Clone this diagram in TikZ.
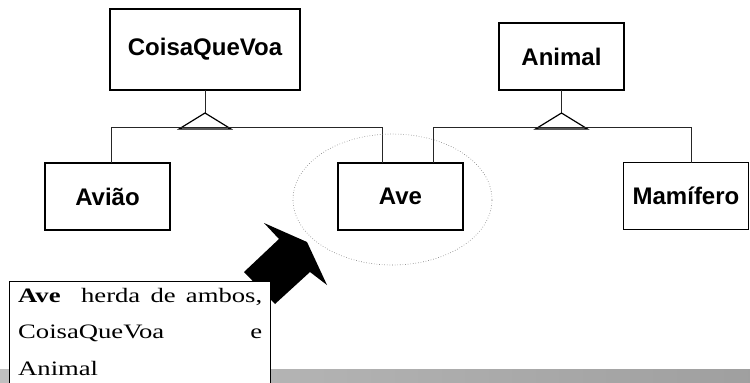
\documentclass[tikz,border=0pt]{standalone}
\usepackage{fontspec}
\setmainfont{Liberation Serif}[FakeStretch=1.3]
\newfontfamily\classefont{Liberation Sans}
\usetikzlibrary{positioning,calc,shapes.geometric}

\begin{document}
\begin{tikzpicture}[
x=1pt, y=-1pt,
    C/.style = {rectangle, draw, line width=1.6pt,% boxes of the classes
                minimum width=125pt, minimum height=67pt,
                inner sep=0pt, outer sep=0pt,
                font=\classefont\bfseries\fontsize{24}{28}\selectfont},
    L/.style = {draw=black!85, line width=0.8pt},% connectors
    H/.style = {draw, line width=1.2pt, fill=white},% inheritance triangle
    T/.style = {anchor=base west, inner sep=0pt,% lines of the note
                font=\fontsize{20.5}{36}\selectfont},
                        ]
\useasboundingbox (0,0) rectangle (750,383);
\shade[left color=gray!50, right color=gray!75] (0,369) rectangle (750,383);
% classes
\node[C, minimum width=190pt, minimum height=81pt] (coisa) at (205,49.5) {CoisaQueVoa};
\node[C] (animal)   at (561.5,56.5) {Animal};
\node[C] (aviao)    at (107.5,196.5) {Avião};
\node[C] (ave)      at (400.5,196.5) {Ave};
\node[C] (mamifero) at (686,196) {Mamífero};
% inheritance
\coordinate (t1) at ($(coisa.south)+(0,23)$);
\coordinate (t2) at ($(animal.south)+(0,23)$);
\coordinate (ave1) at ($(ave.north west)+(44,0)$);
\coordinate (ave2) at ($(ave.north west)+(95,0)$);
\draw[L] (coisa.south) -- (t1);
\draw[L] (animal.south) -- (t2);
\foreach \t in {t1,t2}{
    \draw[H] (\t) -- ++(-26,16) -- ++(52,0) -- cycle;
    \fill[gray!45] ($(\t)+(-22,14.2)$) rectangle ($(\t)+(22,15.4)$);
}
\draw[L] ($(aviao.north)+(3.5,0)$) -- ++(0,-36) -| (ave1);
\draw[L] (ave2) -- ++(0,-36) -| ($(mamifero.north)+(5,0)$);
% focus on Ave
\node[ellipse, draw=black!55, dotted, line width=0.6pt,
      minimum width=199pt, minimum height=131pt]
    (foco) at ($(ave)+(-8,3)$) {};
\fill (307,242) -- (327,285) -- (310,272) -- (275,304)
      -- (244,272) -- (279,239) -- (264,223) -- cycle;
% note
\node[draw, fill=white, line width=1pt, anchor=north west, inner sep=0pt,
      minimum width=261pt, minimum height=120pt] (nota) at (9,281) {};
\node[T] (n1) at ($(nota.north west)+(9,21)$)
    {\makebox[244pt][s]{\textbf{Ave}\ \ herda de ambos,}};
\node[T] (n2) at ($(n1.base west)+(0,36)$)
    {\makebox[244pt][s]{CoisaQueVoa e}};
\node[T] (n3) at ($(n2.base west)+(0,37)$) {Animal};
\end{tikzpicture}
\end{document}
